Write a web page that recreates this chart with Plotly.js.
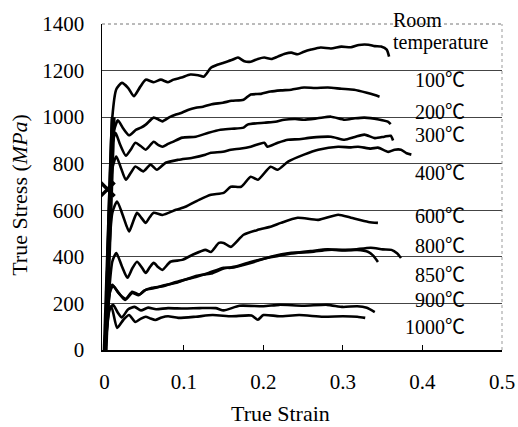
<!DOCTYPE html>
<html>
<head>
<meta charset="utf-8">
<script src="https://cdn.plot.ly/plotly-3.0.1.min.js"></script>
<style>body{margin:0;background:#fff}#chart{width:518px;height:427px}</style>
</head>
<body>
<div id="chart"></div>
<script>
// ---- data ----
const rtX = [0.001,0.010,0.015,0.022,0.030,0.037,0.045,0.052,0.062,0.071,0.080,0.087,0.097,0.108,0.118,0.125,0.134,0.142,0.150,0.160,0.168,0.176,0.184,0.193,0.201,0.210,0.218,0.227,0.235,0.243,0.251,0.260,0.272,0.285,0.298,0.310,0.320,0.332,0.340,0.348,0.355,0.358];
const rtY = [0,1000,1120,1147,1125,1090,1130,1161,1150,1161,1150,1161,1170,1183,1180,1174,1212,1225,1234,1245,1256,1240,1238,1250,1256,1250,1260,1272,1277,1270,1281,1290,1299,1295,1303,1300,1310,1311,1305,1303,1290,1260];

const t100X = [0.001,0.012,0.017,0.024,0.031,0.040,0.046,0.052,0.062,0.068,0.073,0.082,0.090,0.098,0.106,0.115,0.124,0.135,0.149,0.160,0.175,0.184,0.197,0.209,0.222,0.235,0.251,0.265,0.281,0.298,0.314,0.330,0.340,0.346];
const t100Y = [0,940,986,950,922,946,955,968,998,990,982,1000,1011,1020,1032,1040,1045,1055,1062,1070,1075,1097,1100,1110,1115,1118,1127,1125,1127,1122,1118,1105,1095,1088];

const t200X = [0.001,0.010,0.014,0.020,0.027,0.033,0.039,0.046,0.052,0.062,0.068,0.073,0.080,0.086,0.098,0.115,0.131,0.146,0.160,0.175,0.180,0.201,0.215,0.226,0.240,0.251,0.268,0.285,0.302,0.315,0.327,0.345,0.357,0.360];
const t200Y = [0,880,933,880,834,860,890,875,860,894,880,873,885,894,912,916,933,946,950,955,968,976,980,989,992,989,995,1002,989,995,998,990,980,970];

const t300X = [0.001,0.010,0.015,0.021,0.027,0.033,0.039,0.049,0.058,0.066,0.077,0.093,0.111,0.127,0.134,0.149,0.159,0.172,0.184,0.201,0.205,0.218,0.231,0.245,0.260,0.285,0.302,0.315,0.327,0.340,0.352,0.360,0.363];
const t300Y = [0,780,831,780,731,760,788,767,796,774,804,817,826,839,847,851,860,865,873,890,873,890,903,905,912,916,903,915,925,910,916,920,900];

const t400X = [0.001,0.010,0.016,0.023,0.031,0.036,0.041,0.046,0.052,0.057,0.062,0.073,0.090,0.102,0.119,0.134,0.150,0.159,0.172,0.184,0.193,0.209,0.218,0.231,0.251,0.269,0.294,0.310,0.319,0.335,0.344,0.357,0.365,0.373,0.380,0.386];
const t400Y = [0,590,638,580,509,550,589,570,546,570,589,580,602,615,645,667,675,701,701,744,731,787,774,809,839,860,873,870,873,865,869,851,860,860,845,839];

const t600X = [0.001,0.010,0.015,0.022,0.029,0.035,0.041,0.047,0.052,0.057,0.062,0.068,0.073,0.083,0.098,0.111,0.127,0.134,0.144,0.150,0.159,0.175,0.193,0.210,0.222,0.243,0.269,0.294,0.310,0.332,0.344];
const t600Y = [0,380,416,360,310,350,379,355,331,355,374,355,344,379,387,409,430,421,460,460,443,495,516,530,546,568,559,581,568,550,546];

const t800X = [0.001,0.007,0.010,0.018,0.026,0.035,0.043,0.050,0.060,0.075,0.090,0.115,0.131,0.150,0.159,0.184,0.209,0.235,0.260,0.281,0.310,0.335,0.350,0.361,0.368,0.373];
const t800Y = [0,250,280,245,215,245,235,255,267,275,292,314,331,353,353,374,400,417,421,430,430,439,432,430,415,395];

const t850X = [0.001,0.007,0.011,0.019,0.027,0.035,0.044,0.052,0.062,0.078,0.092,0.115,0.134,0.150,0.165,0.184,0.209,0.235,0.260,0.281,0.300,0.318,0.332,0.338,0.344];
const t850Y = [0,250,275,240,220,250,238,258,265,280,290,318,328,350,358,378,398,415,425,432,428,430,421,405,378];

const t900X = [0.001,0.007,0.011,0.017,0.022,0.030,0.038,0.046,0.055,0.065,0.080,0.100,0.120,0.140,0.150,0.170,0.200,0.220,0.250,0.280,0.300,0.318,0.330,0.340];
const t900Y = [0,180,194,160,140,175,185,170,182,175,180,178,180,180,170,190,188,194,190,194,185,188,181,163];

const t1000X = [0.001,0.006,0.009,0.016,0.024,0.031,0.039,0.046,0.052,0.058,0.064,0.072,0.080,0.093,0.115,0.136,0.160,0.185,0.193,0.200,0.220,0.245,0.275,0.300,0.318,0.328];
const t1000Y = [0,170,185,95,130,150,120,135,143,135,129,140,145,138,143,150,145,148,130,150,145,150,143,145,143,138];

// overlapping elastic-loading band at the start of all curves
const elasticX = [0.001, 0.011];
const elasticY = [0, 1000];

const markX = [0.004];
const markY = [690];

const labelText = ["Room","temperature","100℃","200℃","300℃","400℃","600℃","800℃","850℃","900℃","1000℃"];
const labelY = [1419,1320,1161,1024,925,761,576,447,323,215,99];

const xTicks = [0,0.1,0.2,0.3,0.4,0.5];
const xTickText = ["0","0.1","0.2","0.3","0.4","0.5"];
const yTicks = [0,200,400,600,800,1000,1200,1400];

// ---- drawing ----
const FONT = "Liberation Serif, Times New Roman, Noto Sans CJK SC, serif";
const series = [[rtX,rtY],[t100X,t100Y],[t200X,t200Y],[t300X,t300Y],[t400X,t400Y],
  [t600X,t600Y],[t800X,t800Y],[t850X,t850Y],[t900X,t900Y],[t1000X,t1000Y]];
const traces = series.map(s => ({
  x: s[0], y: s[1], type: 'scatter', mode: 'lines',
  line: {color: '#000', width: 2.6, shape: 'spline', smoothing: 0.6},
  hoverinfo: 'skip', showlegend: false
}));
traces.push({x: elasticX, y: elasticY, type: 'scatter', mode: 'lines',
  line: {color: '#000', width: 5}, hoverinfo: 'skip', showlegend: false});
traces.push({x: markX, y: markY, type: 'scatter', mode: 'markers',
  marker: {symbol: 'x-thin-open', size: 14, color: '#000', line: {color: '#000', width: 3.5}},
  showlegend: false, hoverinfo: 'skip'});

const yMax = 1400;
const annotations = labelText.map((t, i) => {
  const above = labelY[i] > yMax;
  return {
    x: i < 2 ? 0.361 : 0.456, xanchor: i < 2 ? 'left' : 'right',
    y: above ? labelY[i] / yMax : labelY[i], yanchor: 'middle',
    xref: 'x', yref: above ? 'paper' : 'y',
    text: t, showarrow: false, font: {family: FONT, size: 20, color: '#000'}
  };
});
annotations.push({xref: 'x', yref: 'paper', x: 0.222, y: -0.194, yanchor: 'middle',
  text: 'True Strain', showarrow: false, font: {family: FONT, size: 22, color: '#000'}});
annotations.push({xref: 'paper', yref: 'paper', x: -0.205, y: 0.476, xanchor: 'center', yanchor: 'middle',
  textangle: -90, text: 'True Stress (<i>MPa</i>)', showarrow: false,
  font: {family: FONT, size: 22, color: '#000'}});

const layout = {
  width: 518, height: 427,
  margin: {l: 102, r: 16, t: 24, b: 77},
  paper_bgcolor: '#fff', plot_bgcolor: '#fff',
  font: {family: FONT, size: 21, color: '#000'},
  xaxis: {range: [-0.003, 0.5], tickvals: xTicks, ticktext: xTickText,
    ticks: 'inside', ticklen: 5, tickcolor: '#000', showgrid: false, zeroline: false,
    showline: true, linecolor: '#000', linewidth: 1.5, tickfont: {family: FONT, size: 21},
    ticklabelstandoff: 12},
  yaxis: {range: [0, yMax], tickvals: yTicks, showgrid: true, gridcolor: '#444', gridwidth: 1,
    zeroline: false, showline: true, linecolor: '#000', linewidth: 1.5, ticks: '',
    tickfont: {family: FONT, size: 21}, ticklabelstandoff: 12},
  shapes: [
    {type: 'line', xref: 'paper', yref: 'paper', x0: 0, x1: 1, y0: 1, y1: 1,
      line: {color: '#777', width: 1, dash: 'dot'}},
    {type: 'line', xref: 'paper', yref: 'paper', x0: 1, x1: 1, y0: 0, y1: 1,
      line: {color: '#999', width: 1, dash: 'dot'}}
  ],
  annotations: annotations
};
Plotly.newPlot('chart', traces, layout, {staticPlot: true});
</script>
</body>
</html>
